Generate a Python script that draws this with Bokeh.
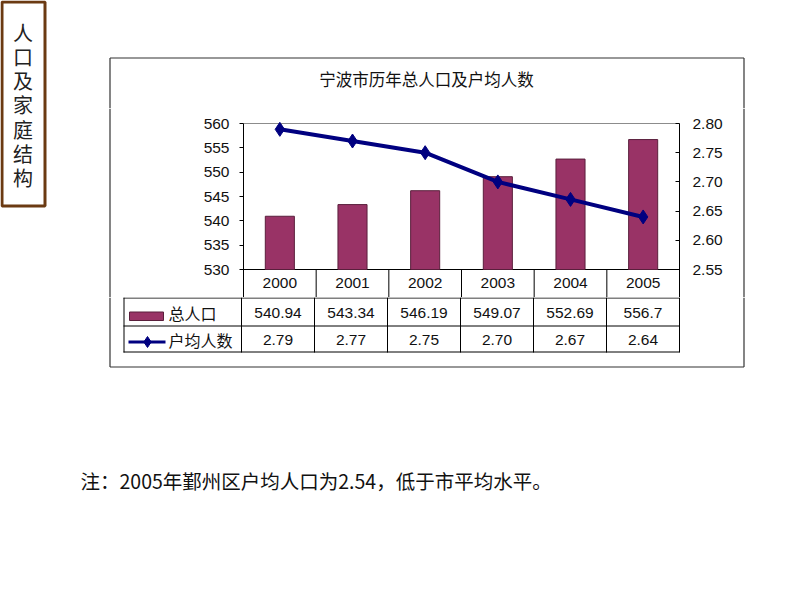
from bokeh.plotting import figure
from bokeh.layouts import column, row
from bokeh.models import (Range1d, LinearAxis, FixedTicker, NumeralTickFormatter, ColumnDataSource)
from bokeh.core.properties import value
from bokeh.embed import file_html
from bokeh.resources import INLINE

# ---------------- data ----------------
years = ["2000", "2001", "2002", "2003", "2004", "2005"]
population = [540.94, 543.34, 546.19, 549.07, 552.69, 556.7]      # 总人口
household_size = [2.79, 2.77, 2.75, 2.70, 2.67, 2.64]             # 户均人数
left_ticks = [530, 535, 540, 545, 550, 555, 560]
right_ticks = [2.55, 2.60, 2.65, 2.70, 2.75, 2.80]
series_names = ["总人口", "户均人数"]
title_text = "宁波市历年总人口及户均人数"
side_title = "人口及家庭结构"
note_text = "注：2005年鄞州区户均人口为2.54，低于市平均水平。"

# ---------------- style / layout ----------------
BAR = "#993366"
BAR_EDGE = "#5a1f3c"
LINE = "#000080"
BROWN = "#6b3a12"
BOX = "#333333"
NUM_FONT = value("Liberation Sans")
CJK_FONT = value("Noto Sans CJK SC")
TXT = "#111111"
NUM_SIZE = "15.5px"

W, H = 784, 584
SIDE_W = 60                                # side-title strip
FL, FR, FT, FB = 241, 679, 123, 269        # plot area (page px)
Y_SPLIT1, Y_SPLIT2 = 108, 297              # band borders (page px)
X_SPLIT1, X_SPLIT2 = 200, 735
ROW2, ROW3 = 325, 351                      # table row borders
TBL_L = 123
n = len(years)
colw = (FR - FL) / n


def blank(x0, x1, y_top, y_bot):
    f = figure(width=x1 - x0, height=y_bot - y_top, output_backend="svg", toolbar_location=None,
               x_range=Range1d(x0, x1), y_range=Range1d(y_bot, y_top),
               x_axis_location=None, y_axis_location=None, min_border=0)
    f.grid.visible = False
    f.outline_line_color = None
    f.background_fill_color = "white"
    f.border_fill_color = "white"
    return f


def ly(Y):
    """page px -> left-axis value"""
    return left_ticks[-1] - (Y - FT) * (left_ticks[-1] - left_ticks[0]) / (FB - FT)


def ry(Y):
    """page px -> right-axis value"""
    return right_ticks[-1] - (Y - FT) * (right_ticks[-1] - right_ticks[0]) / (FB - FT)


# ================= side title strip =================
side = blank(0, SIDE_W, 0, H)
side.quad(left=[1.5], right=[44.5], top=[1.5], bottom=[205.5], fill_color=None,
          line_color=BROWN, line_width=3)
chars = list(side_title)
side.text(x=[22.5] * len(chars), y=[31.5 + 24.3 * i for i in range(len(chars))], text=chars,
          text_align="center", text_baseline="middle", text_font=CJK_FONT,
          text_font_size="20px", text_color="#222222")

# ================= top band =================
top = blank(SIDE_W, W, 0, Y_SPLIT1)
top.segment(x0=[109.5, 109.5, 743.5], y0=[57.5, 57.5, 57.5], x1=[743.5, 109.5, 743.5],
            y1=[57.5, Y_SPLIT1, Y_SPLIT1], line_color=BOX, line_width=1.2)
top.text(x=[426], y=[78], text=[title_text], text_align="center", text_baseline="middle",
         text_font=CJK_FONT, text_font_size="16.5px", text_color=TXT)

# ================= middle band =================
left = blank(SIDE_W, X_SPLIT1, Y_SPLIT1, Y_SPLIT2)
left.segment(x0=[109.5], y0=[Y_SPLIT1], x1=[109.5], y1=[Y_SPLIT2], line_color=BOX, line_width=1.2)

right = blank(X_SPLIT2, W, Y_SPLIT1, Y_SPLIT2)
right.segment(x0=[743.5], y0=[Y_SPLIT1], x1=[743.5], y1=[Y_SPLIT2], line_color=BOX, line_width=1.2)

centers = [i + 0.5 for i in range(n)]
bounds = [float(i) for i in range(n + 1)]
p = figure(width=X_SPLIT2 - X_SPLIT1, height=Y_SPLIT2 - Y_SPLIT1, output_backend="svg",
           toolbar_location=None, x_axis_location=None,
           x_range=Range1d(0, n), y_range=Range1d(ly(Y_SPLIT2), ly(Y_SPLIT1)),
           min_border_left=FL - X_SPLIT1, min_border_right=X_SPLIT2 - FR,
           min_border_top=0, min_border_bottom=0)
p.extra_y_ranges = {"hh": Range1d(ry(Y_SPLIT2), ry(Y_SPLIT1))}
p.grid.visible = False
p.outline_line_color = None
p.background_fill_color = "white"
p.border_fill_color = "white"

ya = p.yaxis[0]
ya.ticker = FixedTicker(ticks=left_ticks)
ya.bounds = (ly(Y_SPLIT2), left_ticks[-1])
ya.axis_line_color = "black"
ya.major_tick_line_color = "black"
ya.major_tick_out = 4
ya.major_tick_in = 0
ya.minor_tick_line_color = None
ya.major_label_standoff = 10
ya.major_label_text_font = "Liberation Sans"
ya.major_label_text_font_size = NUM_SIZE
ya.major_label_text_color = TXT

ra = LinearAxis(y_range_name="hh", ticker=FixedTicker(ticks=right_ticks),
                formatter=NumeralTickFormatter(format="0.00"),
                bounds=(ry(Y_SPLIT2), right_ticks[-1]))
ra.axis_line_color = "black"
ra.major_tick_line_color = "black"
ra.major_tick_out = 0
ra.major_tick_in = 4
ra.minor_tick_line_color = None
ra.major_label_standoff = 13
ra.major_label_text_font = "Liberation Sans"
ra.major_label_text_font_size = NUM_SIZE
ra.major_label_text_color = TXT
p.add_layout(ra, "right")

# plot-area top edge (grey) and category/table header row
p.segment(x0=[0], y0=[left_ticks[-1]], x1=[n], y1=[left_ticks[-1]], line_color="#8c8c8c", line_width=1)
p.segment(x0=[0], y0=[left_ticks[0]], x1=[n], y1=[left_ticks[0]], line_color="black", line_width=1)
p.segment(x0=bounds[1:-1], y0=[ly(Y_SPLIT2)] * (n - 1), x1=bounds[1:-1], y1=[left_ticks[0]] * (n - 1),
          line_color="black", line_width=1)

src = ColumnDataSource(dict(x=centers, year=years, pop=population, hh=household_size,
                            pop_txt=[f"{v:g}" for v in population],
                            hh_txt=[f"{v:.2f}" for v in household_size]))
p.text(x="x", y=ly(282), text="year", source=src, text_align="center", text_baseline="middle",
       text_font=NUM_FONT, text_font_size=NUM_SIZE, text_color=TXT)
p.vbar(x="x", top="pop", bottom=left_ticks[0], width=0.4, source=src,
       fill_color=BAR, line_color=BAR_EDGE, line_width=1)
p.line(x="x", y="hh", source=src, y_range_name="hh", line_color=LINE, line_width=4)
p.scatter(x="x", y="hh", source=src, y_range_name="hh", marker="diamond", size=14,
          fill_color=LINE, line_color=LINE)

# ================= bottom band: data table and note =================
def cu(X):
    """page px -> column units of the chart's x scale"""
    return (X - FL) / colw


bot = figure(width=W - SIDE_W, height=H - Y_SPLIT2, output_backend="svg", toolbar_location=None,
             x_range=Range1d(cu(SIDE_W), cu(W)), y_range=Range1d(H, Y_SPLIT2),
             x_axis_location=None, y_axis_location=None, min_border=0)
bot.grid.visible = False
bot.outline_line_color = None
bot.background_fill_color = "white"
bot.border_fill_color = "white"

row_y = [Y_SPLIT2 + 0.5, ROW2 + 0.5, ROW3 + 0.5]
bot.segment(x0=[cu(TBL_L)] * 3, y0=row_y, x1=[float(n)] * 3, y1=row_y, line_color="black", line_width=1)
bot.segment(x0=bounds + [cu(TBL_L + 0.5)], y0=[Y_SPLIT2] * (n + 2),
            x1=bounds + [cu(TBL_L + 0.5)], y1=[ROW3 + 1] * (n + 2), line_color="black", line_width=1)
r2c = (Y_SPLIT2 + ROW2) / 2 + 1
r3c = (ROW2 + ROW3) / 2 + 1
bot.text(x="x", y=r2c, text="pop_txt", source=src, text_align="center", text_baseline="middle",
         text_font=NUM_FONT, text_font_size=NUM_SIZE, text_color=TXT)
bot.text(x="x", y=r3c, text="hh_txt", source=src, text_align="center", text_baseline="middle",
         text_font=NUM_FONT, text_font_size=NUM_SIZE, text_color=TXT)

# legend keys
bot.quad(left=[cu(129)], right=[cu(163)], top=[311.5], bottom=[320], fill_color=BAR,
         line_color=BAR_EDGE, line_width=1)
bot.segment(x0=[cu(128)], y0=[341.5], x1=[cu(165)], y1=[341.5], line_color=LINE, line_width=3)
bot.scatter(x=[cu(147)], y=[341.5], marker="diamond", size=11, fill_color=LINE, line_color=LINE)
bot.text(x=[cu(168)] * 2, y=[r2c, r3c], text=series_names, text_baseline="middle",
         text_font=CJK_FONT, text_font_size="16px", text_color=TXT)

# chart box (lower part)
bot.segment(x0=[cu(109.5), cu(743.5), cu(109.5)], y0=[Y_SPLIT2, Y_SPLIT2, 366.5],
            x1=[cu(109.5), cu(743.5), cu(743.5)], y1=[366.5, 366.5, 366.5],
            line_color=BOX, line_width=1.2)

# note
bot.text(x=[cu(80)], y=[479.5], text=[note_text], text_baseline="middle",
         text_font=CJK_FONT, text_font_size="19.5px", text_color=TXT)

layout = row(side, column(top, row(left, p, right), bot))
open("out.html", "w").write(file_html(layout, INLINE))
